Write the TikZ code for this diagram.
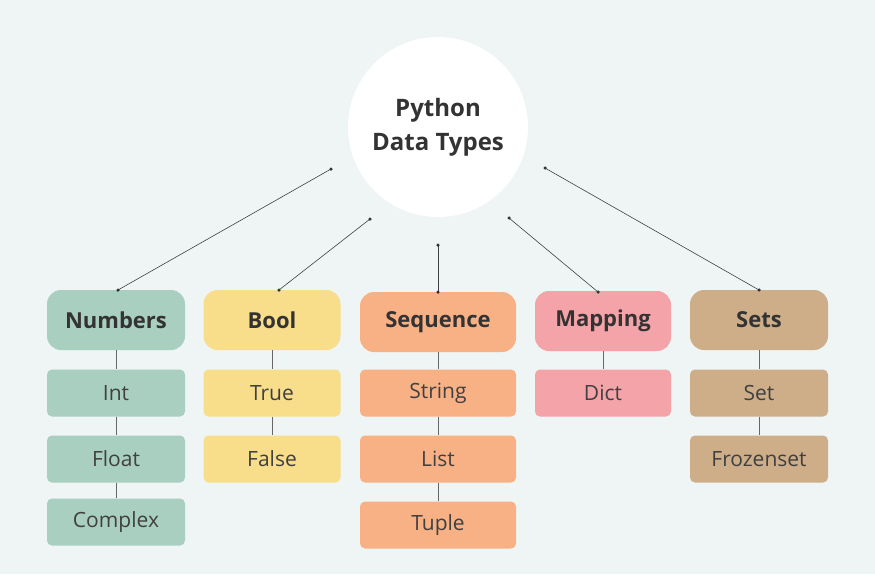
\documentclass[tikz,border=0pt]{standalone}
\usepackage{fontspec}
\setmainfont{Open Sans}
\begin{document}
\begin{tikzpicture}[x=1pt,y=-1pt,
  hdr/.style={rounded corners=14pt,minimum height=60pt,inner sep=0pt,font=\fontsize{22}{24}\selectfont\bfseries,text=black!80},
  kid/.style={rounded corners=5pt,minimum height=47pt,inner sep=0pt,font=\fontsize{21}{24}\selectfont,text=black!75},
  con/.style={draw=black!75,line width=0.6pt},
  tie/.style={draw=black!60,line width=0.4pt},
  dot/.style={circle,fill=black!80,inner sep=0pt,minimum size=3.5pt}]
\definecolor{bg}{HTML}{EEF5F4}
\definecolor{cnum}{HTML}{A9CFC1}
\definecolor{cbool}{HTML}{F8DD8B}
\definecolor{cseq}{HTML}{F8B184}
\definecolor{cmap}{HTML}{F4A3A8}
\definecolor{cset}{HTML}{CEAD89}
\fill[bg] (0,0) rectangle (875,574);
\useasboundingbox (0,0) rectangle (875,574);
\node[circle,fill=white,minimum size=180pt,inner sep=0pt,align=center,font=\fontsize{24}{34}\selectfont\bfseries,text=black!80] (root) at (438,127) {Python\\Data Types};
% children (drawn first so ties lie behind)
\foreach \n/\t/\x/\y/\w/\c in {int/Int/116/393/138/cnum, float/Float/116/459/138/cnum, cpx/Complex/116/522/138/cnum,
  tru/True/272/393/137/cbool, fal/False/272/459/137/cbool,
  str/String/438/393/156/cseq, lst/List/438/459/156/cseq, tup/Tuple/438/525/156/cseq,
  dct/Dict/603/393/136/cmap, set/Set/759/393/138/cset, fro/Frozenset/759/459/138/cset}
  \node[kid,fill=\c,minimum width=\w pt] (\n) at (\x,\y) {\t};
\node[hdr,fill=cnum,minimum width=138pt] (num) at (116,320) {Numbers};
\node[hdr,fill=cbool,minimum width=137pt] (bool) at (272,320) {Bool};
\node[hdr,fill=cseq,minimum width=156pt] (seq) at (438,322) {Sequence};
\node[hdr,fill=cmap,minimum width=136pt] (map) at (603,321) {Mapping};
\node[hdr,fill=cset,minimum width=138pt] (sets) at (759,320) {Sets};
\foreach \a/\b in {num/int,int/float,float/cpx,bool/tru,tru/fal,seq/str,str/lst,lst/tup,map/dct,sets/set,set/fro}
  \draw[tie] (\a.south) -- (\b.north);
\coordinate (p1) at (331,169); \coordinate (p2) at (370,219); \coordinate (p3) at (438,245);
\coordinate (p4) at (509,218); \coordinate (p5) at (545,168);
\coordinate (q1) at (118,290); \coordinate (q2) at (279,290); \coordinate (q3) at (438,292);
\coordinate (q4) at (598,292); \coordinate (q5) at (759,290);
\foreach \i in {1,...,5}{
  \draw[con] (p\i) -- (q\i);
  \node[dot] at (p\i) {}; \node[dot] at (q\i) {};}
\end{tikzpicture}
\end{document}
